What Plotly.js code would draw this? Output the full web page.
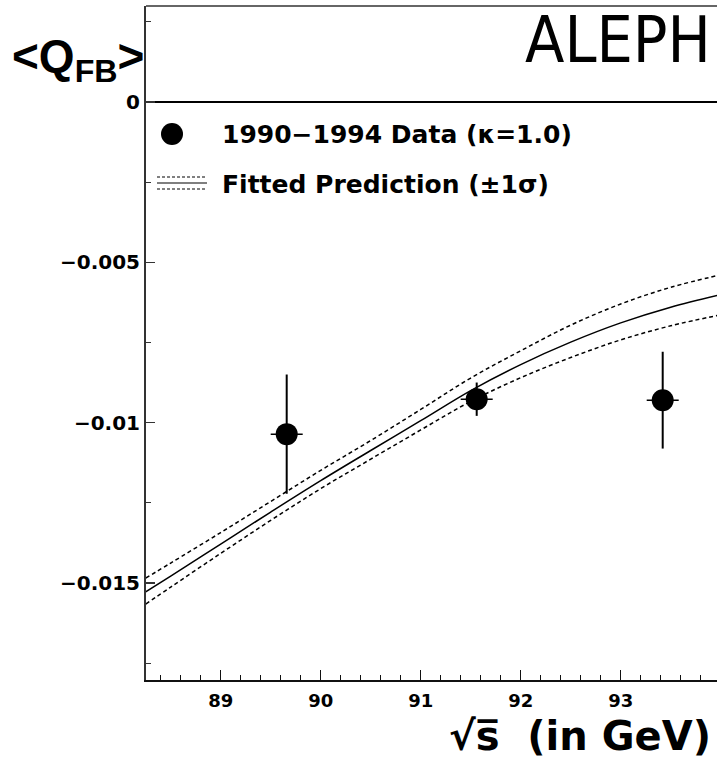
<!DOCTYPE html>
<html>
<head>
<meta charset="utf-8">
<script src="https://cdn.plot.ly/plotly-3.0.1.min.js"></script>
<style>html,body{margin:0;padding:0;background:#fff;}#chart{width:717px;height:760px;}</style>
</head>
<body>
<div id="chart"></div>
<script>
// Data points: sqrt(s) in GeV and <Q_FB>
const energy = [89.66, 91.56, 93.42];
const energyErr = [0.16, 0.16, 0.16];
const qfb = [-0.01036, -0.00927, -0.00930];
const qfbErr = [0.00186, 0.00052, 0.00151];

// Fitted prediction with +-1 sigma band
const fitX = [88.25, 88.5, 89, 89.5, 90, 90.5, 91, 91.5, 92, 92.5, 93, 93.5, 94];
const fitCentral = [-0.01528, -0.01479, -0.01379, -0.01279, -0.01181, -0.01087, -0.00994, -0.00900, -0.00819, -0.00749, -0.00689, -0.00640, -0.00601];
const fitUpper = [-0.01485, -0.01438, -0.01343, -0.01246, -0.01149, -0.01056, -0.00959, -0.00861, -0.00776, -0.00696, -0.00630, -0.00578, -0.00539];
const fitLower = [-0.01566, -0.01513, -0.01408, -0.01305, -0.01206, -0.01114, -0.01023, -0.00934, -0.00860, -0.00797, -0.00742, -0.00698, -0.00664];

// Tick labels
const xTickVals = [89, 90, 91, 92, 93];
const xTickText = ['89', '90', '91', '92', '93'];
const yTickVals = [0, -0.005, -0.01, -0.015];
const yTickText = ['0', '\u22120.005', '\u22120.01', '\u22120.015'];

// Texts
const titleText = '&lt;Q<sub>FB</sub>&gt;';
const experimentText = 'ALEPH';
const xTitleText = '\u221As\u0305  (in GeV)';
const legendData = '1990\u22121994 Data (\u03BA=1.0)';
const legendFit = 'Fitted Prediction (\u00B11\u03C3)';

const W = 717, H = 760, ML = 146, MR = 0, MT = 6, MB = 80;
const PW = W - ML - MR, PH = H - MT - MB;
const px = x => (x - ML) / PW;
const py = y => (H - MB - y) / PH;

const dashStyle = '4px,3px';

const traces = [
  {x: fitX, y: fitUpper, type: 'scatter', mode: 'lines', line: {color: '#000', width: 1.5, dash: dashStyle, shape: 'spline', smoothing: 1}, showlegend: false, hoverinfo: 'skip'},
  {x: fitX, y: fitLower, type: 'scatter', mode: 'lines', line: {color: '#000', width: 1.5, dash: dashStyle, shape: 'spline', smoothing: 1}, showlegend: false, hoverinfo: 'skip'},
  {x: fitX, y: fitCentral, type: 'scatter', mode: 'lines', line: {color: '#000', width: 1.5, shape: 'spline', smoothing: 1}, showlegend: false},
  {x: energy, y: qfb, type: 'scatter', mode: 'markers',
   marker: {color: '#000', size: 22},
   error_y: {type: 'data', array: qfbErr, visible: true, color: '#000', thickness: 2, width: 0},
   error_x: {type: 'data', array: energyErr, visible: true, color: '#000', thickness: 1.5, width: 0},
   showlegend: false}
];

const tickFontY = {family: 'DejaVu Sans', size: 20, color: '#000', weight: 'bold'};
const tickFontX = {family: 'DejaVu Sans', size: 18, color: '#000', weight: 'bold'};

const layout = {
  width: W, height: H,
  margin: {l: ML, r: MR, t: MT, b: MB, pad: 0},
  paper_bgcolor: '#fff', plot_bgcolor: '#fff',
  showlegend: false,
  xaxis: {
    range: [88.253, 93.963], showgrid: false, zeroline: false,
    showline: true, linecolor: '#111', linewidth: 2,
    ticks: 'inside', ticklen: 10, tickwidth: 1.5, tickcolor: '#111',
    tickmode: 'array', tickvals: xTickVals, ticktext: xTickText,
    tickfont: tickFontX, ticklabelstandoff: 3,
    minor: {dtick: 0.2, tick0: 89, ticks: 'inside', ticklen: 5, tickwidth: 1, tickcolor: '#111', showgrid: false}
  },
  yaxis: {
    range: [-0.0180287, 0.0029944], showgrid: false,
    zeroline: true, zerolinecolor: '#000', zerolinewidth: 2,
    showline: true, linecolor: '#333', linewidth: 2,
    ticks: 'inside', ticklen: 9, tickwidth: 1.5, tickcolor: '#333',
    tickmode: 'array', tickvals: yTickVals, ticktext: yTickText,
    tickfont: tickFontY, ticklabelstandoff: 0,
    minor: {dtick: 0.0025, tick0: 0, ticks: 'inside', ticklen: 5, tickwidth: 1, tickcolor: '#333', showgrid: false}
  },
  shapes: [
    // top frame
    {type: 'line', xref: 'paper', yref: 'paper', x0: 0, x1: 1, y0: 1, y1: 1, line: {color: '#666', width: 2}},
    // legend: data marker
    {type: 'circle', xref: 'paper', yref: 'paper', xsizemode: 'pixel', ysizemode: 'pixel',
     xanchor: px(172), yanchor: py(134), x0: -11, x1: 11, y0: -11, y1: 11,
     fillcolor: '#000', line: {color: '#000', width: 0}},
    // legend: fit lines
    {type: 'line', xref: 'paper', yref: 'paper', x0: px(157), x1: px(207), y0: py(177), y1: py(177), line: {color: '#000', width: 1, dash: '3px,2px'}},
    {type: 'line', xref: 'paper', yref: 'paper', x0: px(157), x1: px(207), y0: py(183), y1: py(183), line: {color: '#000', width: 1.2}},
    {type: 'line', xref: 'paper', yref: 'paper', x0: px(157), x1: px(207), y0: py(189), y1: py(189), line: {color: '#000', width: 1, dash: '3px,2px'}}
  ],
  annotations: [
    {text: titleText, xref: 'paper', yref: 'paper', x: px(10), y: py(60), xanchor: 'left', yanchor: 'middle',
     showarrow: false, font: {family: 'Liberation Sans, Arial', size: 46, color: '#000', weight: 'bold'}},
    {text: experimentText, xref: 'paper', yref: 'paper', x: px(713), y: py(40), xanchor: 'right', yanchor: 'middle',
     showarrow: false, font: {family: 'DejaVu Sans Condensed, DejaVu Sans', size: 64, color: '#000'}},
    {text: xTitleText, xref: 'paper', yref: 'paper', x: px(713), y: py(736), xanchor: 'right', yanchor: 'middle',
     showarrow: false, font: {family: 'DejaVu Sans', size: 40, color: '#000', weight: 'bold'}},
    {text: legendData, xref: 'paper', yref: 'paper', x: px(220), y: py(134), xanchor: 'left', yanchor: 'middle',
     showarrow: false, font: {family: 'DejaVu Sans', size: 25, color: '#000', weight: 'bold'}},
    {text: legendFit, xref: 'paper', yref: 'paper', x: px(220), y: py(184), xanchor: 'left', yanchor: 'middle',
     showarrow: false, font: {family: 'DejaVu Sans', size: 25, color: '#000', weight: 'bold'}}
  ]
};

Plotly.newPlot('chart', traces, layout, {displayModeBar: false, staticPlot: true});
</script>
</body>
</html>
